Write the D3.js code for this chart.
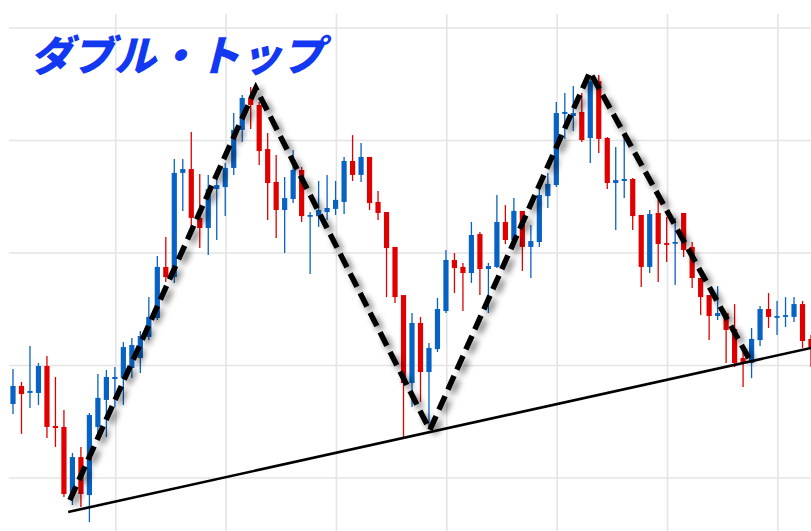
<!DOCTYPE html>
<html>
<head>
<meta charset="utf-8">
<script src="https://cdn.jsdelivr.net/npm/d3@7"></script>
<style>
  html, body { margin: 0; padding: 0; background: #fff; }
  svg { display: block; }
</style>
</head>
<body>
<svg id="chart" width="811" height="531"></svg>
<script>
// candle data, one entry per bar (index 0..94)
const open = [103.29,104.09,103.78,103.78,104.98,102.31,102.27,99.24,100.93,99.24,
  102.27,103.47,104.40,104.44,104.89,105.33,106.27,107.11,109.38,108.93,
  113.56,113.73,111.56,111.11,112.84,112.93,113.78,115.47,116.89,116.58,
  114.62,113.16,111.91,112.40,113.69,111.64,111.64,111.82,111.96,112.27,
  114.09,113.47,114.27,112.27,111.82,110.27,108.13,104.22,106.89,104.71,
  105.73,107.42,109.69,109.38,109.11,110.84,109.29,109.38,111.38,110.58,
  111.87,110.27,110.49,112.53,113.02,116.18,116.09,116.27,115.11,117.64,
  115.11,113.11,113.20,113.29,111.69,109.38,111.78,110.44,110.44,111.78,
  110.27,108.89,108.13,107.20,107.33,106.62,105.33,105.11,106.13,107.51,
  107.16,107.16,107.16,107.73,106.18];

const high = [104.84,104.27,105.87,105.11,105.42,104.49,103.02,101.11,101.38,102.89,
  104.62,104.80,104.93,106.04,106.22,106.53,108.04,109.87,110.71,114.18,
  114.18,115.38,113.51,113.47,113.47,114.00,116.22,117.02,117.38,116.71,
  115.33,114.36,113.38,114.58,113.82,111.82,113.20,113.47,113.20,114.27,
  115.24,114.89,114.27,112.76,111.82,110.27,108.13,107.33,107.16,106.00,
  108.00,110.13,110.00,109.56,111.38,110.93,109.56,112.58,112.13,112.44,
  111.87,111.24,112.89,113.56,116.71,117.11,117.42,117.11,117.73,117.91,
  115.16,114.71,115.33,113.33,111.69,111.91,112.36,111.60,111.56,111.78,
  110.49,108.89,108.13,108.53,107.33,107.73,105.60,106.67,107.64,108.22,
  107.87,108.04,108.04,107.87,106.36];

const low = [102.84,101.96,103.11,103.24,101.78,101.38,99.16,98.80,98.71,98.04,
  101.69,101.82,103.16,103.24,104.44,104.67,106.13,107.02,108.71,108.67,
  111.87,110.93,110.22,109.91,110.58,111.64,113.47,114.93,115.51,113.91,
  111.47,110.67,110.00,112.22,111.38,109.07,111.16,111.47,111.69,111.73,
  113.20,113.16,111.91,111.47,108.04,107.78,101.82,103.16,103.38,102.22,
  105.60,107.33,108.22,107.42,108.67,108.13,107.33,109.33,110.40,110.22,
  109.20,108.89,110.27,112.00,112.93,115.07,115.42,114.93,114.00,114.44,
  112.84,111.02,112.44,111.02,108.49,109.11,108.71,109.60,108.58,109.82,
  108.44,107.24,106.13,107.02,105.11,104.93,104.04,104.44,105.87,106.67,
  106.36,106.71,106.93,105.78,104.93];

const close = [104.09,103.73,103.87,104.98,102.27,102.22,99.29,100.93,99.29,102.80,
  103.56,104.49,104.49,105.82,105.91,106.31,107.16,109.38,108.93,113.56,
  113.73,111.56,111.11,112.84,113.02,113.78,115.47,116.89,116.58,114.53,
  113.11,111.91,112.44,113.69,111.64,111.69,111.91,112.00,112.36,114.09,
  113.47,114.27,112.22,111.78,110.22,108.04,104.22,106.89,104.71,105.78,
  107.51,109.69,109.33,109.11,110.80,109.29,109.42,111.38,110.58,111.87,
  110.27,110.53,112.58,113.07,116.22,116.27,116.22,115.02,117.64,115.07,
  113.11,113.24,113.29,111.64,109.38,111.73,110.40,110.40,110.49,110.13,
  108.89,108.04,107.20,107.33,106.58,105.11,105.16,106.18,107.51,107.16,
  107.20,107.24,107.73,106.09,105.78];

// grid tick values
const gridPrices = [100, 105, 110, 115, 120];
const gridBars = [12.1, 25.1, 38.1, 51.1, 64.1, 77.1, 90.1];

// double top pattern: zigzag and neckline (bar index, price)
const zigBars = [6.7, 28.6, 49.1, 67.96, 86.8];
const zigPrices = [99.02, 117.33, 102.13, 118.04, 105.24];
const neckBars = [6.5, 94];
const neckPrices = [98.49, 105.78];

const title = "ダブル・トップ";

const width = 811, height = 531;
const upColor = "#0862c4", downColor = "#e00000";

const svg = d3.select("#chart");

const x = d3.scaleLinear().domain([0, 94]).range([13, 811]);
const y = d3.scaleLinear().domain([100, 120]).range([478, 28]);

const candles = open.map((o, i) => ({ i, o, h: high[i], l: low[i], c: close[i] }));

// drop shadow for the dashed line
const defs = svg.append("defs");
const shadow = defs.append("filter")
  .attr("id", "shadow")
  .attr("x", "-10%").attr("y", "-10%")
  .attr("width", "130%").attr("height", "130%");
shadow.append("feGaussianBlur").attr("in", "SourceAlpha").attr("stdDeviation", 3).attr("result", "blur");
shadow.append("feOffset").attr("in", "blur").attr("dx", 4).attr("dy", 4).attr("result", "off");
shadow.append("feComponentTransfer").attr("in", "off").attr("result", "soft")
  .append("feFuncA").attr("type", "linear").attr("slope", 0.55);
const merge = shadow.append("feMerge");
merge.append("feMergeNode").attr("in", "soft");
merge.append("feMergeNode").attr("in", "SourceGraphic");

// grid
const grid = svg.append("g").attr("class", "grid")
  .attr("stroke", "#e4e4e4")
  .attr("stroke-width", 1.6);

grid.selectAll("line.h")
  .data(gridPrices)
  .enter()
  .append("line")
  .attr("class", "h")
  .attr("x1", 9)
  .attr("x2", width)
  .attr("y1", (d) => y(d))
  .attr("y2", (d) => y(d));

grid.selectAll("line.v")
  .data(gridBars)
  .enter()
  .append("line")
  .attr("class", "v")
  .attr("x1", (d) => x(d))
  .attr("x2", (d) => x(d))
  .attr("y1", 14)
  .attr("y2", height);

// candles
const candle = svg.append("g")
  .attr("class", "candles")
  .selectAll("g")
  .data(candles)
  .enter()
  .append("g");

candle.append("line")
  .attr("x1", (d) => x(d.i))
  .attr("x2", (d) => x(d.i))
  .attr("y1", (d) => y(d.h))
  .attr("y2", (d) => y(d.l))
  .attr("stroke", (d) => (d.c >= d.o ? upColor : downColor))
  .attr("stroke-width", 1.3);

candle.append("rect")
  .attr("x", (d) => x(d.i) - 2.6)
  .attr("width", 5.2)
  .attr("y", (d) => y(Math.max(d.o, d.c)))
  .attr("height", (d) => Math.max(1.8, Math.abs(y(d.o) - y(d.c))))
  .attr("fill", (d) => (d.c >= d.o ? upColor : downColor));

// neckline
const line = d3.line()
  .x((d) => x(d[0]))
  .y((d) => y(d[1]));

svg.append("path")
  .datum(d3.zip(neckBars, neckPrices))
  .attr("d", line)
  .attr("fill", "none")
  .attr("stroke", "#000")
  .attr("stroke-width", 2.6);

// dashed zigzag
svg.append("path")
  .datum(d3.zip(zigBars, zigPrices))
  .attr("d", line)
  .attr("fill", "none")
  .attr("stroke", "#000")
  .attr("stroke-width", 5.5)
  .attr("stroke-dasharray", "15,7")
  .attr("stroke-linejoin", "miter")
  .attr("filter", "url(#shadow)");

// title
svg.append("text")
  .attr("x", 30)
  .attr("y", 71)
  .attr("font-family", "'Noto Sans CJK JP', sans-serif")
  .attr("font-weight", 900)
  .attr("font-style", "italic")
  .attr("font-size", 42)
  .attr("fill", "#1238f2")
  .text(title);
</script>
</body>
</html>
